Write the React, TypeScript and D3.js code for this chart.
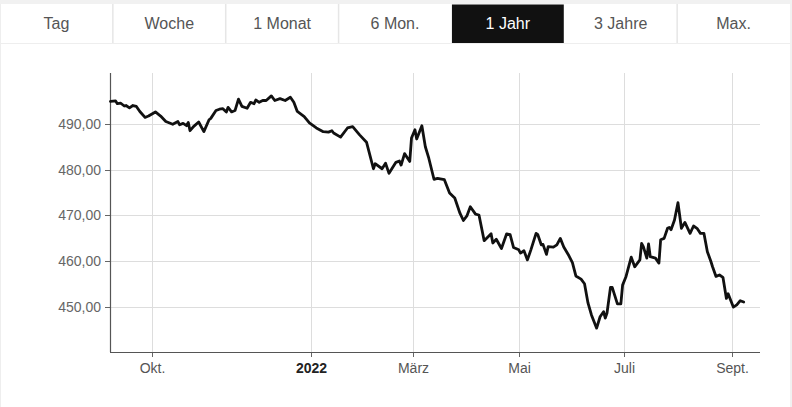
import React from "react";
import * as d3 from "d3";

const tabs = ["Tag", "Woche", "1 Monat", "6 Mon.", "1 Jahr", "3 Jahre", "Max."];
const activeTab = "1 Jahr";

const dates = [
  "2021-09-07","2021-09-10","2021-09-11","2021-09-13","2021-09-15","2021-09-16","2021-09-18","2021-09-20","2021-09-22","2021-09-24",
  "2021-09-27","2021-09-29","2021-10-03","2021-10-06","2021-10-09","2021-10-13","2021-10-16","2021-10-17","2021-10-19","2021-10-21",
  "2021-10-22","2021-10-23","2021-10-25","2021-10-28","2021-10-31","2021-11-03","2021-11-04","2021-11-07","2021-11-09","2021-11-11",
  "2021-11-13","2021-11-14","2021-11-16","2021-11-18","2021-11-20","2021-11-22","2021-11-25","2021-11-27","2021-11-29","2021-11-30",
  "2021-12-02","2021-12-04","2021-12-06","2021-12-09","2021-12-11","2021-12-14","2021-12-17","2021-12-20","2021-12-22","2021-12-24",
  "2021-12-28","2021-12-31","2022-01-04","2022-01-08","2022-01-11","2022-01-13","2022-01-14","2022-01-18","2022-01-22","2022-01-25",
  "2022-01-29","2022-02-02","2022-02-06","2022-02-07","2022-02-11","2022-02-13","2022-02-15","2022-02-19","2022-02-21","2022-02-22",
  "2022-02-24","2022-02-27","2022-02-28","2022-03-02","2022-03-03","2022-03-06","2022-03-08","2022-03-10","2022-03-13","2022-03-15",
  "2022-03-19","2022-03-22","2022-03-25","2022-03-28","2022-03-30","2022-04-01","2022-04-03","2022-04-06","2022-04-08","2022-04-11",
  "2022-04-15","2022-04-16","2022-04-18","2022-04-21","2022-04-24","2022-04-26","2022-04-28","2022-05-01","2022-05-02","2022-05-04",
  "2022-05-06","2022-05-08","2022-05-11","2022-05-12","2022-05-14","2022-05-15","2022-05-17","2022-05-18","2022-05-21","2022-05-23",
  "2022-05-25","2022-05-27","2022-05-30","2022-06-01","2022-06-03","2022-06-06","2022-06-08","2022-06-10","2022-06-12","2022-06-15",
  "2022-06-17","2022-06-19","2022-06-20","2022-06-21","2022-06-23","2022-06-24","2022-06-27","2022-06-29","2022-06-30","2022-07-02",
  "2022-07-05","2022-07-07","2022-07-10","2022-07-11","2022-07-12","2022-07-14","2022-07-15","2022-07-16","2022-07-19","2022-07-21",
  "2022-07-22","2022-07-24","2022-07-26","2022-07-27","2022-07-28","2022-07-30","2022-08-01","2022-08-03","2022-08-05","2022-08-08",
  "2022-08-10","2022-08-12","2022-08-14","2022-08-16","2022-08-18","2022-08-20","2022-08-21","2022-08-23","2022-08-25","2022-08-27",
  "2022-08-29","2022-08-30","2022-09-02","2022-09-04","2022-09-06","2022-09-08"
];

const prices = [
  494.9,495.0,494.4,494.5,493.9,494.0,493.5,494.0,493.8,492.7,
  491.4,491.7,492.6,491.7,490.5,489.9,490.5,489.8,490.1,489.6,
  490.3,488.5,489.4,490.4,488.3,490.9,491.2,492.9,493.2,493.3,
  492.6,493.6,492.6,492.9,495.4,493.8,493.4,494.7,494.4,495.2,
  494.7,495.1,495.1,496.1,495.1,495.5,495.1,495.8,494.7,492.7,
  491.6,490.2,489.1,488.3,488.2,488.5,488.0,487.1,489.1,489.4,
  487.6,486.0,480.2,481.3,480.2,481.4,479.2,481.6,481.9,481.0,
  483.5,481.8,486.9,488.7,486.7,489.6,485.0,482.5,477.9,478.1,
  477.8,474.9,473.8,470.5,468.9,469.9,471.9,470.3,470.1,464.5,
  466.0,464.0,464.8,462.8,466.0,465.8,463.0,462.5,461.8,462.3,
  460.3,462.5,466.1,465.8,463.6,463.7,461.5,463.2,463.1,463.6,
  465.0,463.1,461.2,459.7,456.8,456.1,455.1,450.9,448.3,445.4,
  447.9,449.0,447.6,448.7,454.3,454.3,450.7,450.7,454.8,456.7,
  460.9,458.8,460.3,463.9,463.2,460.7,463.8,461.0,460.7,459.6,
  464.7,465.0,467.2,467.4,466.9,469.0,472.8,467.2,468.5,466.1,
  467.7,467.2,466.1,466.1,462.1,460.0,458.8,456.7,457.0,456.5,
  451.9,452.9,450.0,450.5,451.4,451.1
];

const yTicks = [450, 460, 470, 480, 490];
const xTickDates = ["2021-10-01", "2022-01-01", "2022-03-01", "2022-05-01", "2022-07-01", "2022-09-01"];
const xTickLabels = ["Okt.", "2022", "März", "Mai", "Juli", "Sept."];
const xBold = ["2022"];

const parse = d3.timeParse("%Y-%m-%d");
const parseT = d3.timeParse("%Y-%m-%dT%H:%M");
const de = d3.formatLocale({ decimal: ",", thousands: ".", grouping: [3], currency: ["", " €"] });
const fmt = de.format(".2f");

export default function App() {
  const W = 792, H = 407;
  const left = 110, right = 760, top = 73, bottom = 352;
  const x = d3.scaleTime()
    .domain([parseT("2021-09-06T18:00") as Date, parseT("2022-09-17T10:00") as Date])
    .range([left, right]);
  const y = d3.scaleLinear().domain([440.2, 501.1]).range([bottom, top]);
  const data = dates.map((d, i) => ({ date: parse(d) as Date, v: prices[i] }));
  const line = d3.line<{ date: Date; v: number }>()
    .x((d) => x(d.date))
    .y((d) => y(d.v))
    .curve(d3.curveLinear);
  const tabW = 790 / tabs.length;
  const font = "'Liberation Sans', Arial, sans-serif";

  return (
    <div style={{ position: "fixed", left: 0, top: 0, width: W, height: H, background: "#fff" }}>
      <svg width={W} height={H} style={{ display: "block", fontFamily: font }}>
        <rect x={0} y={0} width={W} height={H} fill="#f1f1f1" />
        <rect x={0} y={4} width={790} height={H - 4} fill="#ffffff" />
        {tabs.map((t, i) => {
          const active = t === activeTab;
          return (
            <g key={t}>
              <rect x={i * tabW + 0.5} y={4.5} width={tabW - 1} height={38.5}
                fill={active ? "#111111" : "#ffffff"} />
              {i > 0 && !active && tabs[i - 1] !== activeTab && (
                <line x1={i * tabW} x2={i * tabW} y1={4} y2={43} stroke="#e6e6e6" strokeWidth={1.5} />
              )}
              <text x={i * tabW + tabW / 2} y={29} textAnchor="middle" fontSize={16}
                fill={active ? "#ffffff" : "#555555"}>{t}</text>
            </g>
          );
        })}
        <line x1={0} x2={790} y1={43.5} y2={43.5} stroke="#eeeeee" strokeWidth={1} />
        <line x1={0.5} x2={0.5} y1={4} y2={H} stroke="#eeeeee" strokeWidth={1} />

        {yTicks.map((t) => (
          <g key={t}>
            <line x1={left - 5} x2={right} y1={Math.round(y(t)) + 0.5} y2={Math.round(y(t)) + 0.5}
              stroke="#dddddd" strokeWidth={1} />
            <line x1={left - 5} x2={left} y1={Math.round(y(t)) + 0.5} y2={Math.round(y(t)) + 0.5}
              stroke="#666666" strokeWidth={1} />
            <text x={left - 9} y={y(t) + 5} textAnchor="end" fontSize={14} fill="#666666">{fmt(t)}</text>
          </g>
        ))}
        {xTickDates.map((d, i) => {
          const px = Math.round(x(parse(d) as Date)) + 0.5;
          const bold = xBold.includes(xTickLabels[i]);
          return (
            <g key={d}>
              <line x1={px} x2={px} y1={top} y2={bottom} stroke="#dddddd" strokeWidth={1} />
              <line x1={px} x2={px} y1={bottom} y2={bottom + 5} stroke="#666666" strokeWidth={1} />
              <text x={px} y={bottom + 21} textAnchor="middle" fontSize={14}
                fontWeight={bold ? "bold" : "normal"} fill={bold ? "#222222" : "#555555"}>
                {xTickLabels[i]}
              </text>
            </g>
          );
        })}
        <line x1={left + 0.5} x2={left + 0.5} y1={top} y2={bottom} stroke="#555555" strokeWidth={1.2} />
        <line x1={left} x2={right} y1={bottom + 0.5} y2={bottom + 0.5} stroke="#555555" strokeWidth={1.2} />

        <path d={line(data) || ""} fill="none" stroke="#111111" strokeWidth={2.8}
          strokeLinejoin="round" strokeLinecap="round" />
      </svg>
    </div>
  );
}
